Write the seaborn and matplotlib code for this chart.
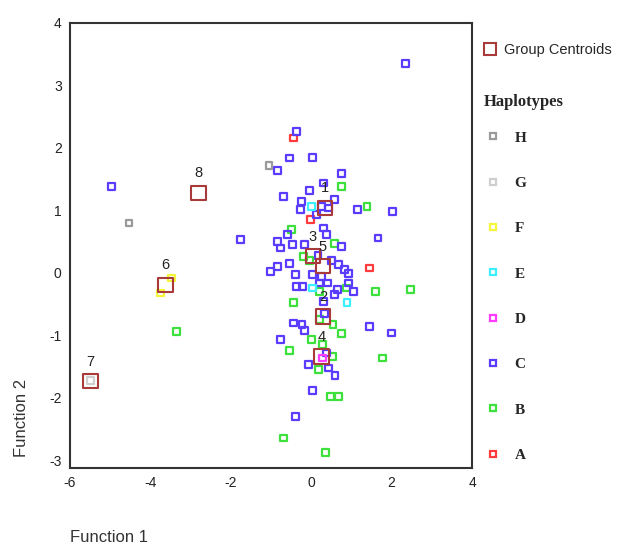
import matplotlib
matplotlib.use("Agg")
import matplotlib.pyplot as plt
from matplotlib.lines import Line2D
import numpy as np
import pandas as pd
import seaborn as sns

# discriminant scores, one pair of arrays per haplotype
a_x = [-0.44, -0.01, 1.46]
a_y = [2.16, 0.85, 0.08]

b_x = [0.75, 1.39, -0.50, 0.58, -0.20, -0.04, 0.21, 0.87, 1.60, 2.48, -3.35, -0.44, 0.21,
       0.54, 0.75, 0.00, 0.28, -0.53, 0.52, 0.18, 1.77, 0.48, 0.68, -0.68, 0.35]
b_y = [1.38, 1.07, 0.69, 0.47, 0.27, 0.20, -0.30, -0.24, -0.29, -0.26, -0.94, -0.47, -0.74,
       -0.83, -0.97, -1.07, -1.15, -1.24, -1.33, -1.54, -1.36, -1.98, -1.98, -2.64, -2.87]

c_x = [2.35, -4.97, -0.37, -0.53, 0.03, -0.83, 0.75, 0.31, -0.04, -0.68, -0.24, 0.58, -0.27,
       0.25, 0.44, 0.14, 1.16, 2.03, -0.58, 0.31, 0.38, -1.75, 1.66, -0.83, -0.77, -0.47,
       -0.16, 0.76, 0.17, 0.51, 0.67, 0.82, 0.93, -1.01, -0.83, -0.53, -0.39, 0.04, 0.25,
       -0.37, -0.21, 0.21, 0.41, 0.93, 0.65, 1.06, 0.58, 0.30, 0.34, -0.44, -0.23, -0.16,
       1.46, 2.00, -0.77, 0.38, -0.06, 0.44, 0.59, 0.04, -0.39]
c_y = [3.35, 1.38, 2.27, 1.84, 1.85, 1.64, 1.59, 1.44, 1.32, 1.22, 1.15, 1.17, 1.02,
       1.06, 1.04, 0.93, 1.02, 0.99, 0.62, 0.72, 0.62, 0.54, 0.56, 0.50, 0.40, 0.46,
       0.45, 0.42, 0.28, 0.20, 0.14, 0.06, -0.01, 0.02, 0.10, 0.15, -0.03, -0.03, -0.05,
       -0.21, -0.21, -0.16, -0.16, -0.16, -0.26, -0.29, -0.34, -0.45, -0.65, -0.80, -0.82, -0.92,
       -0.86, -0.96, -1.07, -1.28, -1.46, -1.52, -1.64, -1.88, -2.29]

d_x = [0.28]
d_y = [-1.36]

e_x = [0.00, 0.03, 0.89]
e_y = [1.06, -0.24, -0.47]

f_x = [-3.48, -3.75]
f_y = [-0.08, -0.32]

g_x = [-5.49]
g_y = [-1.72]

h_x = [-1.05, -4.53]
h_y = [1.72, 0.80]

# group centroids
cent_labels = ["1", "2", "3", "4", "5", "6", "7", "8"]
cent_x = [0.34, 0.29, 0.04, 0.26, 0.29, -3.62, -5.49, -2.80]
cent_y = [1.04, -0.70, 0.27, -1.34, 0.11, -0.19, -1.73, 1.28]

haplotypes = ["H", "G", "F", "E", "D", "C", "B", "A"]
colors = {"A": "#ff3b3b", "B": "#3de03d", "C": "#5a3cff", "D": "#ff3cff",
          "E": "#3cf0ff", "F": "#f5f53c", "G": "#cfcfcf", "H": "#9a9a9a"}

groups = {"A": (a_x, a_y), "B": (b_x, b_y), "C": (c_x, c_y), "D": (d_x, d_y),
          "E": (e_x, e_y), "F": (f_x, f_y), "G": (g_x, g_y), "H": (h_x, h_y)}
df = pd.concat([pd.DataFrame({"f1": gx, "f2": gy, "hap": k}) for k, (gx, gy) in groups.items()],
               ignore_index=True)
cent = pd.DataFrame({"f1": cent_x, "f2": cent_y, "lab": cent_labels})

sns.set_style("white")
plt.rcParams["axes.unicode_minus"] = False
plt.rcParams["font.family"] = ["Liberation Sans", "DejaVu Sans"]

fig = plt.figure(figsize=(6.19, 5.47), dpi=100)
ax = fig.add_axes([70 / 619, 1 - 468 / 547, 402 / 619, 445 / 547])

sns.scatterplot(data=df, x="f1", y="f2", hue="hap", palette=colors, marker="s", s=24,
                linewidth=1.6, legend=False, ax=ax)
pts = ax.collections[-1]
pts.set_edgecolors(pts.get_facecolors())
pts.set_facecolors("none")

cent_color = "#a83a3a"
sns.scatterplot(data=cent, x="f1", y="f2", marker="s", s=110, facecolor="none",
                edgecolor=cent_color, linewidth=1.5, ax=ax)
for _, r in cent.iterrows():
    ax.annotate(r["lab"], (r["f1"], r["f2"]), xytext=(0, 9), textcoords="offset points",
                ha="center", va="bottom", fontsize=10.5, color="#222222")

ax.set_xlim(-6, 4)
ax.set_ylim(-3.12, 4)
ax.set_xticks([-6, -4, -2, 0, 2, 4])
ax.set_yticks([-3, -2, -1, 0, 1, 2, 3, 4])
ax.set_xlabel("")
ax.set_ylabel("")
ax.tick_params(length=3, width=2, labelsize=10, colors="#222222", pad=3)
for sp in ax.spines.values():
    sp.set_color("#333333")
    sp.set_linewidth(1.5)

fig.text(70 / 619, 1 - 537 / 547, "Function 1", ha="left", va="center", fontsize=12, color="#333333")
fig.text(22 / 619, 1 - 418 / 547, "Function 2", ha="center", va="center", rotation=90,
         fontsize=12, color="#333333")

# legends
cent_handle = [Line2D([], [], marker="s", ls="none", ms=9, mfc="none", mec=cent_color, mew=1.5)]
leg1 = fig.legend(cent_handle, ["Group Centroids"], loc="center left",
                  bbox_to_anchor=(478 / 619, 1 - 50 / 547), frameon=False, fontsize=10.5,
                  handlelength=0.8, handletextpad=0.6, borderaxespad=0)

hap_handles = [Line2D([], [], marker="s", ls="none", ms=4, mfc="none", mec=colors[h], mew=1.6)
               for h in haplotypes]
leg2 = fig.legend(hap_handles, haplotypes, loc="upper left", bbox_to_anchor=(478 / 619, 1 - 88 / 547),
                  frameon=False, title="Haplotypes", alignment="left", labelspacing=2.07,
                  handlelength=1.2, handletextpad=0.8, borderaxespad=0,
                  prop={"family": "Liberation Serif", "weight": "bold", "size": 11},
                  title_fontproperties={"family": "Liberation Serif", "weight": "bold", "size": 12})
leg2._legend_box.sep = 15

fig.savefig("out.png", dpi=100)
